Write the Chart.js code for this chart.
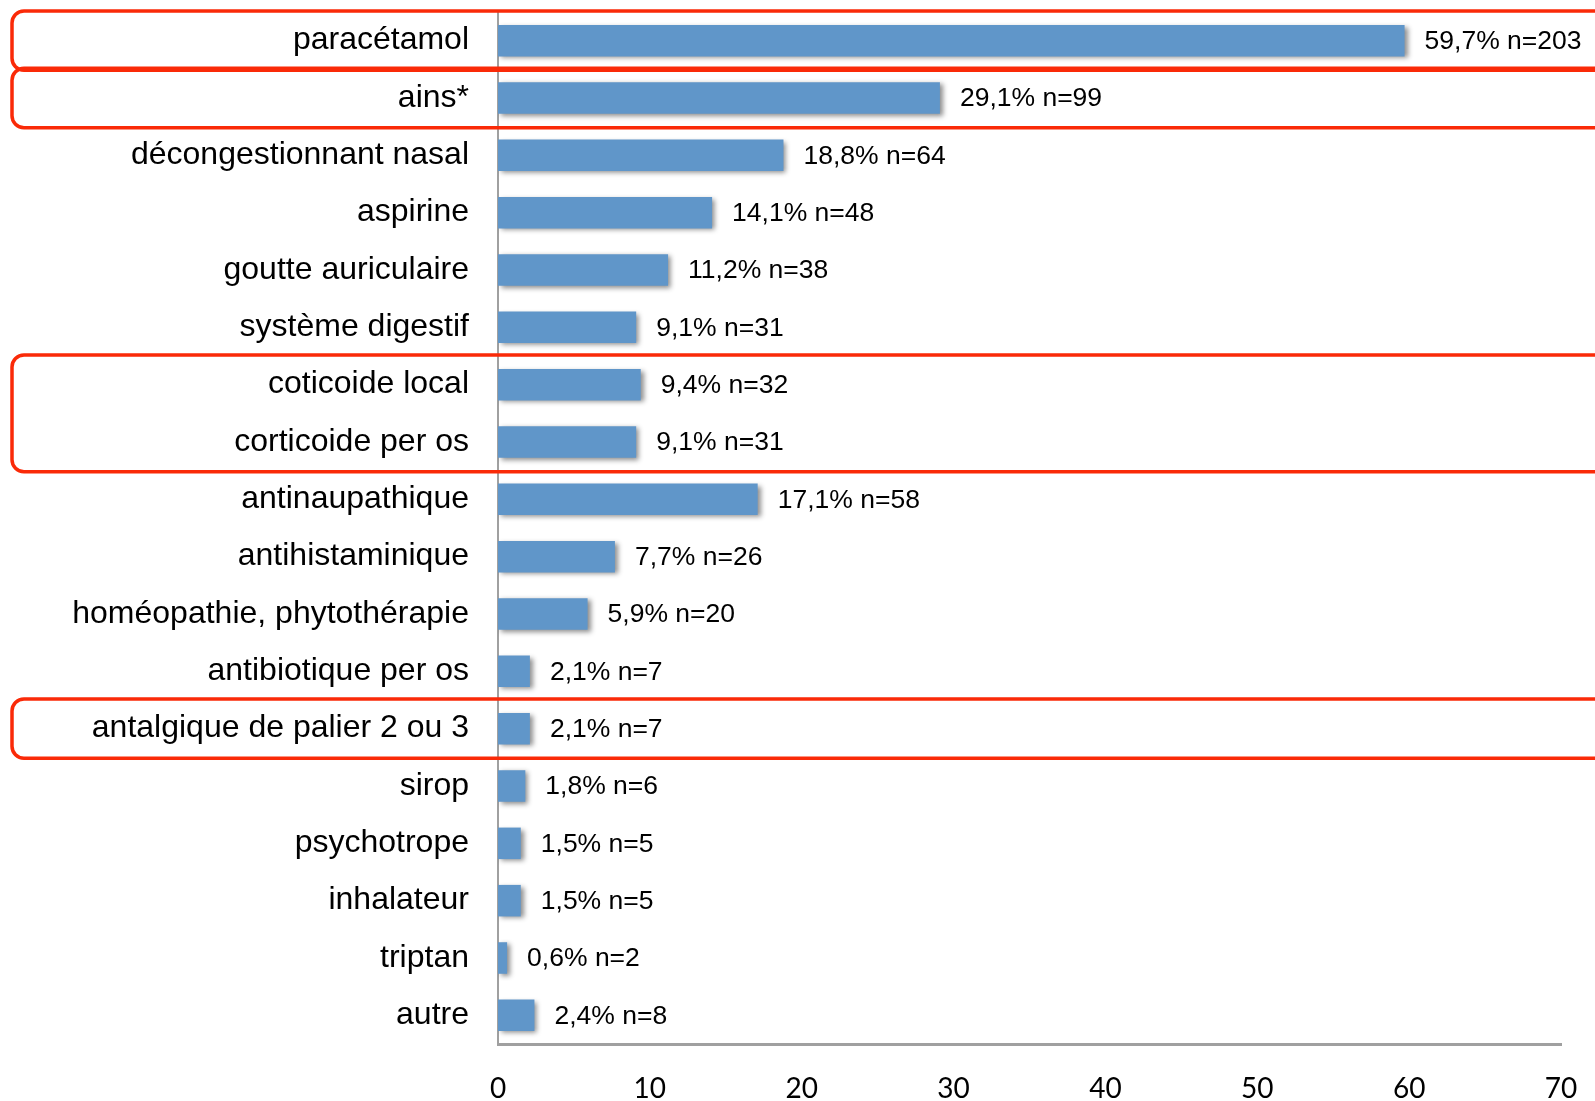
<!DOCTYPE html>
<html>
<head>
<meta charset="utf-8">
<script src="https://cdn.jsdelivr.net/npm/chart.js@4/dist/chart.umd.min.js"></script>
<style>
  html, body { margin: 0; padding: 0; background: #fff; }
  #wrap { width: 1595px; height: 1101px; position: relative; }
</style>
</head>
<body>
<div id="wrap"><canvas id="chart"></canvas></div>
<script>
// --- DATA ---
const categories = [
    'paracétamol', 'ains*', 'décongestionnant nasal', 'aspirine', 'goutte auriculaire',
    'système digestif', 'coticoide local', 'corticoide per os', 'antinaupathique',
    'antihistaminique', 'homéopathie, phytothérapie', 'antibiotique per os',
    'antalgique de palier 2 ou 3', 'sirop', 'psychotrope', 'inhalateur', 'triptan', 'autre'
];
const percents = [59.7, 29.1, 18.8, 14.1, 11.2, 9.1, 9.4, 9.1, 17.1, 7.7, 5.9, 2.1, 2.1, 1.8, 1.5, 1.5, 0.6, 2.4];
const counts = [203, 99, 64, 48, 38, 31, 32, 31, 58, 26, 20, 7, 7, 6, 5, 5, 2, 8];
const xTicks = [0, 10, 20, 30, 40, 50, 60, 70];
// rows framed in red (first index, last index)
const highlightGroups = [[0, 0], [1, 1], [6, 7], [12, 12]];

const BAR_COLOR = '#6096C9';
const BOX_COLOR = '#FA2A08';

// --- PLUGINS ---
const barShadow = {
    id: 'barShadow',
    beforeDatasetsDraw(chart) {
        const ctx = chart.ctx;
        ctx.save();
        ctx.shadowColor = 'rgba(0,0,0,0.45)';
        ctx.shadowBlur = 5;
        ctx.shadowOffsetX = 3;
        ctx.shadowOffsetY = 2;
    },
    afterDatasetsDraw(chart) {
        const ctx = chart.ctx;
        ctx.restore();

        // value labels right of each bar
        const meta = chart.getDatasetMeta(0);
        ctx.save();
        ctx.font = '26.5px "Liberation Sans", Arial, sans-serif';
        ctx.fillStyle = '#000';
        ctx.textBaseline = 'middle';
        ctx.textAlign = 'left';
        meta.data.forEach((bar, i) => {
            const txt = percents[i].toFixed(1).replace('.', ',') + '% n=' + counts[i];
            ctx.fillText(txt, bar.x + 20, bar.y + 1);
        });
        ctx.restore();
    }
};

const redFrames = {
    id: 'redFrames',
    afterDraw(chart) {
        const ctx = chart.ctx;
        const y = chart.scales.y;
        const band = (y.getPixelForValue(1) - y.getPixelForValue(0));
        const pad = 1;
        ctx.save();
        ctx.strokeStyle = BOX_COLOR;
        ctx.lineWidth = 3.5;
        highlightGroups.forEach(([a, b]) => {
            const top = y.getPixelForValue(a) - band / 2 - pad;
            const bottom = y.getPixelForValue(b) + band / 2 + pad;
            ctx.beginPath();
            ctx.roundRect(12, top, chart.width + 40, bottom - top, 12);
            ctx.stroke();
        });
        ctx.restore();
    }
};

function zeroPadding(scale) {
    scale.paddingTop = 0;
    scale.paddingBottom = 0;
    scale.paddingLeft = 0;
    scale.paddingRight = 0;
}

// --- CHART ---
new Chart(document.getElementById('chart'), {
    type: 'bar',
    data: {
        labels: categories,
        datasets: [{
            data: percents,
            backgroundColor: BAR_COLOR,
            borderWidth: 0,
            categoryPercentage: 1,
            barPercentage: 0.55
        }]
    },
    options: {
        indexAxis: 'y',
        responsive: true,
        maintainAspectRatio: false,
        animation: false,
        layout: { padding: { top: 12, right: 34, left: 0, bottom: 0 } },
        plugins: { legend: { display: false }, tooltip: { enabled: false } },
        scales: {
            x: {
                min: xTicks[0],
                max: xTicks[xTicks.length - 1],
                afterBuildTicks: (s) => { s.ticks = xTicks.map(v => ({ value: v })); },
                afterFit: (s) => { s.height = 57; zeroPadding(s); },
                grid: { display: false, drawTicks: false },
                border: { display: true, color: '#A0A0A0', width: 3 },
                ticks: {
                    color: '#000',
                    padding: 28,
                    font: { family: 'Lato, "Open Sans", sans-serif', size: 28 }
                }
            },
            y: {
                afterFit: (s) => { s.width = 498; zeroPadding(s); },
                grid: { display: false, drawTicks: false },
                border: { display: true, color: '#A0A0A0', width: 2 },
                ticks: {
                    color: '#000',
                    padding: 29,
                    autoSkip: false,
                    font: { family: '"Liberation Sans", Arial, sans-serif', size: 32 }
                }
            }
        }
    },
    plugins: [barShadow, redFrames]
});
</script>
</body>
</html>
